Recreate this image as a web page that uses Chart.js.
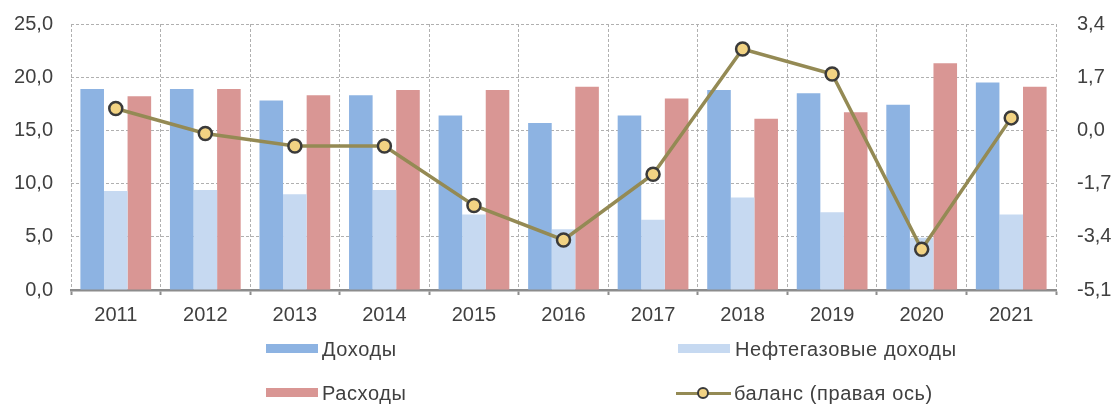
<!DOCTYPE html>
<html>
<head>
<meta charset="utf-8">
<script src="https://cdn.jsdelivr.net/npm/chart.js@4/dist/chart.umd.min.js"></script>
<style>
  html, body { margin: 0; padding: 0; background: #fff; }
  #wrap { position: relative; width: 1111px; height: 405px; overflow: hidden; }
  canvas { position: absolute; left: 0; top: 0; }
  .lg { position: absolute; font-family: "Liberation Sans", Arial, sans-serif; font-size: 20px; color: #404040; line-height: 22px; white-space: nowrap; letter-spacing: 0.6px; }
  .sw { position: absolute; height: 9px; }
</style>
</head>
<body>
<div id="wrap">
  <canvas id="c" width="1111" height="405"></canvas>
  <div id="legend"></div>
</div>
<script>
// ---- data ----
const years = ['2011','2012','2013','2014','2015','2016','2017','2018','2019','2020','2021'];
const revenues    = [18.9, 18.9, 17.8, 18.3, 16.4, 15.7, 16.4, 18.8, 18.5, 17.4, 19.5];
const oilGasRev   = [9.3, 9.4, 9.0, 9.4, 7.1, 5.7, 6.6, 8.7, 7.3, 4.9, 7.1];
const expenditures= [18.2, 18.9, 18.3, 18.8, 18.8, 19.1, 18.0, 16.1, 16.7, 21.3, 19.1];
const balance     = [0.7, -0.1, -0.5, -0.5, -2.4, -3.5, -1.4, 2.6, 1.8, -3.8, 0.4];
const leftTicks  = [0, 5, 10, 15, 20, 25];
const rightTicks = [-5.1, -3.4, -1.7, 0, 1.7, 3.4];
const seriesNames = ['Доходы', 'Нефтегазовые доходы', 'Расходы', 'баланс (правая ось)'];

const C_BLUE = '#8db3e2', C_LIGHT = '#c6d9f1', C_RED = '#d99694', C_OLIVE = '#948a54', C_PT = '#f2d383', C_PTB = '#3a3a3a';
const FONT = { family: '"Liberation Sans", Arial, sans-serif', size: 20 };
const TXT = '#404040';
const GRID = '#b0b0b0';
const NONE = 'rgba(0,0,0,0)';
const fmt = v => (Math.abs(v) < 1e-9 ? 0 : v).toFixed(1).replace('.', ',');

new Chart(document.getElementById('c'), {
  data: {
    labels: years,
    datasets: [
      { type: 'line', label: seriesNames[3], data: balance, yAxisID: 'y1', order: 0,
        borderColor: C_OLIVE, borderWidth: 3.5, tension: 0,
        pointRadius: 6.5, pointBorderWidth: 2.5, pointBackgroundColor: C_PT, pointBorderColor: C_PTB },
      { type: 'bar', label: seriesNames[0], data: revenues, yAxisID: 'y', order: 1,
        backgroundColor: C_BLUE, categoryPercentage: 0.79, barPercentage: 1.0 },
      { type: 'bar', label: seriesNames[1], data: oilGasRev, yAxisID: 'y', order: 1,
        backgroundColor: C_LIGHT, categoryPercentage: 0.79, barPercentage: 1.0 },
      { type: 'bar', label: seriesNames[2], data: expenditures, yAxisID: 'y', order: 1,
        backgroundColor: C_RED, categoryPercentage: 0.79, barPercentage: 1.0 }
    ]
  },
  options: {
    responsive: false,
    animation: false,
    devicePixelRatio: 1,
    layout: { padding: { top: 24, left: 0, right: 0, bottom: 0 } },
    plugins: { legend: { display: false }, tooltip: { enabled: false } },
    scales: {
      x: {
        offset: true,
        grid: { offset: true, color: GRID, lineWidth: 1,
                drawTicks: true, tickLength: 5, tickColor: '#8c8c8c', tickWidth: 2, tickBorderDash: [] },
        border: { display: true, color: '#8c8c8c', width: 2.5, dash: [3, 2] },
        ticks: { font: FONT, color: TXT, padding: 8, maxRotation: 0 },
        afterFit: s => { s.height = 115; }
      },
      y: {
        position: 'left', min: 0, max: 25,
        afterBuildTicks: s => { s.ticks = leftTicks.map(v => ({ value: v })); },
        grid: { color: GRID, lineWidth: 1, drawTicks: true, tickLength: 16, tickColor: NONE },
        border: { display: false, dash: [3, 2] },
        ticks: { font: FONT, color: TXT, padding: 2, callback: v => fmt(v) },
        afterFit: s => { s.width = 71; }
      },
      y1: {
        position: 'right', min: -5.1, max: 3.4,
        afterBuildTicks: s => { s.ticks = rightTicks.map(v => ({ value: v })); },
        grid: { display: true, drawOnChartArea: false, drawTicks: true, tickLength: 19, tickColor: NONE, color: NONE },
        border: { display: false },
        ticks: { font: FONT, color: TXT, padding: 2, callback: v => fmt(v) },
        afterFit: s => { s.width = 55; }
      }
    }
  }
});

// ---- HTML legend (2 x 2) ----
const lg = document.getElementById('legend');
const items = [
  { name: seriesNames[0], color: C_BLUE,  x: 266, tx: 322, cy: 349 },
  { name: seriesNames[1], color: C_LIGHT, x: 678, tx: 735, cy: 349 },
  { name: seriesNames[2], color: C_RED,   x: 266, tx: 322, cy: 393 },
  { name: seriesNames[3], line: true,     x: 676, tx: 734, cy: 393 }
];
items.forEach(it => {
  if (it.line) {
    const l = document.createElement('div');
    l.style.cssText = `position:absolute;left:${it.x}px;top:${it.cy - 1.5}px;width:55px;height:3px;background:${C_OLIVE};`;
    lg.appendChild(l);
    const c = document.createElement('div');
    c.style.cssText = `position:absolute;left:${it.x + 21}px;top:${it.cy - 6}px;width:8px;height:8px;border-radius:50%;background:${C_PT};border:2px solid ${C_PTB};`;
    lg.appendChild(c);
  } else {
    const s = document.createElement('div');
    s.className = 'sw';
    s.style.cssText += `left:${it.x}px;top:${it.cy - 5}px;width:52px;background:${it.color};`;
    lg.appendChild(s);
  }
  const t = document.createElement('div');
  t.className = 'lg';
  t.style.left = it.tx + 'px';
  t.style.top = (it.cy - 11) + 'px';
  t.textContent = it.name;
  lg.appendChild(t);
});
</script>
</body>
</html>
